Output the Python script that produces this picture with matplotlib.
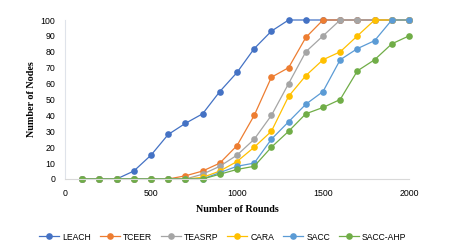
import matplotlib
matplotlib.use("Agg")
import matplotlib.pyplot as plt

rounds = [100, 200, 300, 400, 500, 600, 700, 800, 900, 1000,
          1100, 1200, 1300, 1400, 1500, 1600, 1700, 1800, 1900, 2000]
leach = [0, 0, 0, 5, 15, 28, 35, 41, 55, 67, 82, 93, 100, 100, 100, 100, 100, 100, 100, 100]
tceer = [0, 0, 0, 0, 0, 0, 2, 5, 10, 21, 40, 64, 70, 89, 100, 100, 100, 100, 100, 100]
teasrp = [0, 0, 0, 0, 0, 0, 0, 3, 8, 15, 25, 40, 60, 80, 90, 100, 100, 100, 100, 100]
cara = [0, 0, 0, 0, 0, 0, 0, 1, 5, 11, 20, 30, 52, 65, 75, 80, 90, 100, 100, 100]
sacc = [0, 0, 0, 0, 0, 0, 0, 0, 4, 8, 10, 25, 36, 47, 55, 75, 82, 87, 100, 100]
sacc_ahp = [0, 0, 0, 0, 0, 0, 0, 0, 3, 6, 8, 20, 30, 41, 45, 50, 68, 75, 85, 90]

names = ["LEACH", "TCEER", "TEASRP", "CARA", "SACC", "SACC-AHP"]
series = [leach, tceer, teasrp, cara, sacc, sacc_ahp]
colors = ["#4472C4", "#ED7D31", "#A5A5A5", "#FFC000", "#5B9BD5", "#70AD47"]

x_ticks = [0, 500, 1000, 1500, 2000]
y_ticks = list(range(0, 101, 10))

fig = plt.figure(figsize=(4.7, 2.46), dpi=100)
ax = fig.add_axes([65/470, 1-179/246, (409-65)/470, (179-20)/246])

for name, vals, c in zip(names, series, colors):
    ax.plot(rounds, vals, color=c, lw=0.9, marker="o", markersize=4.8,
            markeredgewidth=0, label=name, clip_on=False)

ax.set_xlim(0, 2000)
ax.set_ylim(0, 100)
ax.set_xticks(x_ticks)
ax.set_yticks(y_ticks)
ax.tick_params(length=0, labelsize=6.3, pad=7)
for lab in ax.get_xticklabels() + ax.get_yticklabels():
    lab.set_family("Liberation Sans")

for s in ["top", "right"]:
    ax.spines[s].set_visible(False)
ax.spines["bottom"].set_color("#d9d9d9")
ax.spines["left"].set_color("#dfe3ea")
ax.spines["bottom"].set_linewidth(0.8)
ax.spines["left"].set_linewidth(0.8)

ax.set_xlabel("Number of Rounds", family="Liberation Serif", weight="bold",
              fontsize=7.3, labelpad=5)
ax.set_ylabel("Number of Nodes", family="Liberation Serif", weight="bold",
              fontsize=7.3, labelpad=3)

fig.legend(loc="center", bbox_to_anchor=(223/470, 1-237/246), ncol=6,
           frameon=False, prop={"family": "Liberation Sans", "size": 6.2},
           handlelength=2.3, handletextpad=0.4, columnspacing=1.0)

fig.savefig("out.png", dpi=100)
